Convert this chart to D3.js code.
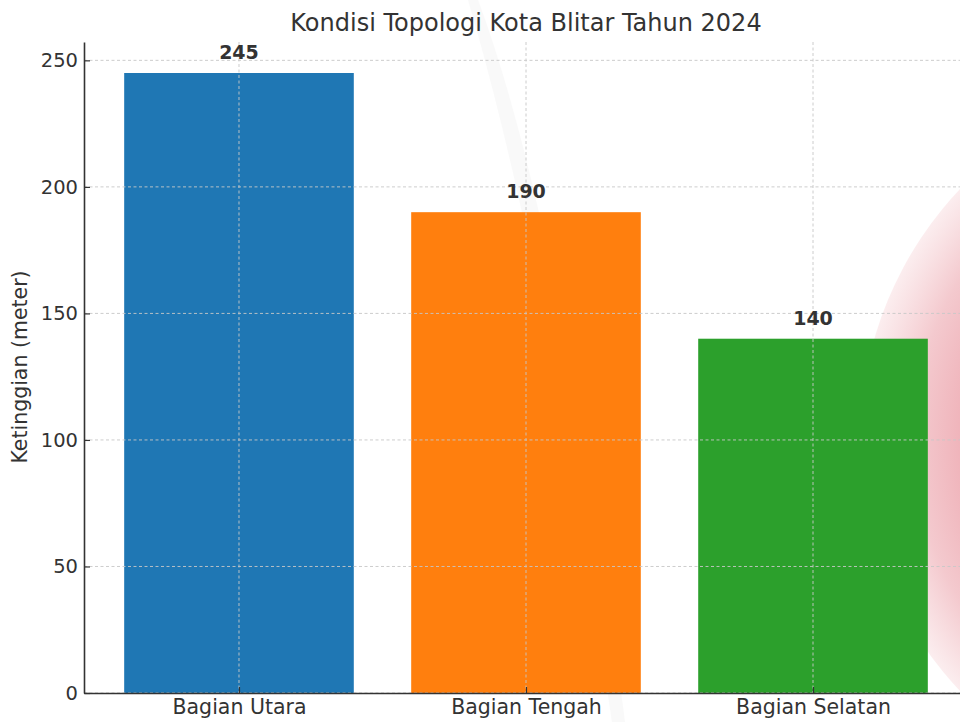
<!DOCTYPE html>
<html>
<head>
<meta charset="utf-8">
<script src="https://cdn.jsdelivr.net/npm/d3@7"></script>
<style>
	body { margin: 0; background: #fff; }
	text { font-family: "DejaVu Sans", sans-serif; fill: #333; }
</style>
</head>
<body>
<script>
var categories = ['Bagian Utara', 'Bagian Tengah', 'Bagian Selatan'],
	heights = [245, 190, 140],
	colors = ['#1f77b4', '#ff7f0e', '#2ca02c'],
	yTicks = [0, 50, 100, 150, 200, 250];

var W = 960, H = 722,
	plotLeft = 84, plotRight = 968, plotTop = 42, plotBottom = 693;

// x: category index, y: meters
var x = d3.scaleLinear()
	.domain([-0.54, categories.length - 1 + 0.54])
	.range([plotLeft, plotRight]);

var y = d3.scaleLinear()
	.domain([0, d3.max(heights) * 1.05])
	.range([plotBottom, plotTop]);

var svg = d3.select('body')
	.append('svg')
	.attr('width', W)
	.attr('height', H);

// background decoration on the right
var defs = svg.append('defs');
var grad = defs.append('radialGradient')
	.attr('id', 'pink')
	.attr('cx', '50%').attr('cy', '50%').attr('r', '50%');
grad.append('stop').attr('offset', '0.6').attr('stop-color', '#e9929c').attr('stop-opacity', 0.9);
grad.append('stop').attr('offset', '0.85').attr('stop-color', '#f1bcc2').attr('stop-opacity', 0.8);
grad.append('stop').attr('offset', '1').attr('stop-color', '#fae6e8').attr('stop-opacity', 0.7);

svg.append('circle')
	.attr('cx', 1225).attr('cy', 440).attr('r', 365)
	.attr('fill', 'url(#pink)');

// faint swoosh
svg.append('path')
	.attr('d', 'M478,0 Q560,220 625,722 L612,722 Q545,260 468,0 Z')
	.attr('fill', '#f3f3f3')
	.attr('opacity', 0.5);

var main = svg.append('g');

// bars
main.selectAll('rect.bar')
	.data(heights)
	.enter().append('rect')
	.attr('class', 'bar')
	.attr('x', function(d, i) { return x(i - 0.4); })
	.attr('width', function(d, i) { return x(i + 0.4) - x(i - 0.4); })
	.attr('y', function(d) { return y(d); })
	.attr('height', function(d) { return y(0) - y(d); })
	.attr('fill', function(d, i) { return colors[i]; });

// grid (dashed, over the bars)
var grid = main.append('g')
	.attr('stroke', '#c8c8c8')
	.attr('stroke-width', 1)
	.attr('stroke-dasharray', '3,2.5')
	.attr('opacity', 0.9);

grid.selectAll('line.h')
	.data(yTicks)
	.enter().append('line')
	.attr('x1', plotLeft).attr('x2', plotRight)
	.attr('y1', function(d) { return y(d); })
	.attr('y2', function(d) { return y(d); });

grid.selectAll('line.v')
	.data(categories)
	.enter().append('line')
	.attr('x1', function(d, i) { return x(i); })
	.attr('x2', function(d, i) { return x(i); })
	.attr('y1', plotTop).attr('y2', plotBottom);

// axes
var yAxis = d3.axisLeft(y)
	.tickValues(yTicks)
	.tickSizeInner(-6)
	.tickSizeOuter(0)
	.tickPadding(6);

var yg = main.append('g')
	.attr('transform', 'translate(' + plotLeft + ',0)')
	.call(yAxis);

var xAxis = d3.axisBottom(x)
	.tickValues(d3.range(categories.length))
	.tickFormat(function(i) { return categories[i]; })
	.tickSizeInner(-6)
	.tickSizeOuter(0)
	.tickPadding(6);

var xg = main.append('g')
	.attr('transform', 'translate(0,' + plotBottom + ')')
	.call(xAxis);

[yg, xg].forEach(function(g) {
	g.select('.domain').attr('stroke', '#333').attr('stroke-width', 1.6);
	g.selectAll('.tick line').attr('stroke', '#333').attr('stroke-width', 1.2);
	g.selectAll('.tick text')
		.style('font-family', '"DejaVu Sans", sans-serif')
		.style('font-size', '19.5px')
		.attr('fill', '#333');
});
xg.selectAll('.tick text').style('font-size', '20.5px');

// value labels
main.selectAll('text.val')
	.data(heights)
	.enter().append('text')
	.attr('class', 'val')
	.attr('x', function(d, i) { return x(i); })
	.attr('y', function(d) { return y(d) - 14; })
	.attr('text-anchor', 'middle')
	.style('font-size', '19px')
	.style('font-weight', 'bold')
	.text(function(d) { return d; });

// title and axis label
svg.append('text')
	.attr('x', (plotLeft + plotRight) / 2)
	.attr('y', 31)
	.attr('text-anchor', 'middle')
	.style('font-size', '24px')
	.text('Kondisi Topologi Kota Blitar Tahun 2024');

svg.append('text')
	.attr('transform', 'translate(27,' + 367 + ') rotate(-90)')
	.attr('text-anchor', 'middle')
	.style('font-size', '20.5px')
	.text('Ketinggian (meter)');
</script>
</body>
</html>
